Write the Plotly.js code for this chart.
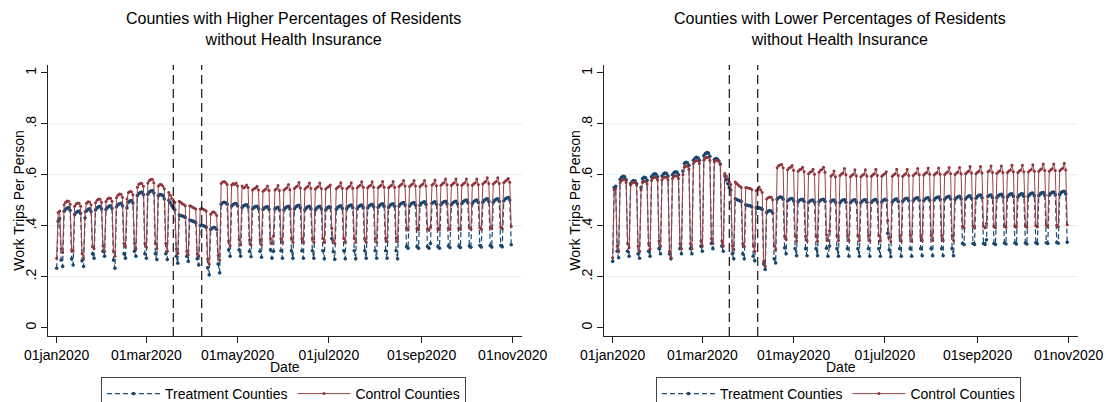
<!DOCTYPE html>
<html>
<head>
<meta charset="utf-8">
<script src="https://cdn.plot.ly/plotly-3.0.1.min.js"></script>
<style>
html,body{margin:0;padding:0;background:#ffffff;}
#chart{width:1106px;height:402px;}
</style>
</head>
<body>
<div id="chart"></div>
<script>
// ---------------- DATA ----------------
const startDate = [2020, 0, 1]; // 01jan2020, daily series through 31oct2020
const seriesNames = ['Treatment Counties', 'Control Counties'];
const panelTitles = [
  'Counties with Higher Percentages of Residents<br>without Health Insurance',
  'Counties with Lower Percentages of Residents<br>without Health Insurance'
];
const xTitle = 'Date';
const yTitle = 'Work Trips Per Person';
const xTickDates = ['2020-01-01', '2020-03-01', '2020-05-01', '2020-07-01', '2020-09-01', '2020-11-01'];
const xTickLabels = ['01jan2020', '01mar2020', '01may2020', '01jul2020', '01sep2020', '01nov2020'];
const yTickValues = [0, 0.2, 0.4, 0.6, 0.8, 1];
const yTickLabels = ['0', '.2', '.4', '.6', '.8', '1'];
const gridValues = [0.2, 0.4, 0.6, 0.8];
const policyDates = ['2020-03-19', '2020-04-07'];

// Higher uninsured panel - Treatment counties (daily)
const higherTreatment = [
  .233,.418,.428,.265,.240,
  .457,.465,.469,.471,.461,.270,.246,
  .444,.452,.456,.458,.448,.262,.240,
  .430,.458,.464,.466,.456,.290,.272,
  .462,.470,.474,.476,.466,.300,.280,
  .464,.472,.476,.478,.468,.265,.233,
  .474,.482,.486,.488,.478,.290,.272,
  .470,.492,.497,.499,.489,.300,.280,
  .518,.526,.530,.532,.522,.290,.272,
  .524,.532,.536,.538,.528,.290,.267,
  .518,.522,.522,.518,.505,.290,.267,
  .500,.490,.478,.470,.462,.280,.253,
  .442,.440,.438,.436,.432,.280,.260,
  .422,.420,.418,.416,.412,.270,.246,
  .402,.402,.400,.398,.394,.235,.207,
  .385,.390,.393,.392,.385,.250,.215,
  .484,.490,.492,.490,.484,.305,.280,
  .477,.483,.486,.487,.478,.305,.280,
  .472,.478,.481,.482,.473,.300,.278,
  .466,.472,.475,.476,.467,.300,.276,
  .464,.470,.473,.474,.465,.305,.272,
  .300,.466,.470,.472,.462,.302,.272,
  .462,.470,.474,.476,.466,.302,.272,
  .466,.474,.478,.480,.470,.302,.272,
  .462,.470,.474,.476,.466,.302,.272,
  .462,.470,.474,.476,.466,.302,.270,
  .462,.470,.474,.472,.350,.298,.268,
  .464,.472,.476,.478,.468,.302,.270,
  .467,.475,.479,.481,.471,.302,.270,
  .467,.475,.479,.481,.471,.302,.272,
  .470,.478,.482,.484,.474,.302,.272,
  .472,.480,.484,.486,.476,.302,.272,
  .472,.480,.484,.486,.476,.302,.270,
  .477,.485,.489,.491,.481,.318,.312,
  .477,.485,.489,.491,.481,.318,.312,
  .480,.488,.492,.494,.484,.318,.312,
  .330,.488,.492,.494,.484,.318,.312,
  .482,.490,.494,.496,.486,.320,.314,
  .482,.490,.494,.496,.486,.320,.314,
  .487,.495,.499,.501,.491,.320,.315,
  .487,.495,.499,.501,.491,.322,.316,
  .492,.500,.504,.506,.496,.322,.316,
  .492,.500,.504,.506,.496,.322,.317,
  .497,.505,.509,.511,.501,.325
];

// Higher uninsured panel - Control counties (daily)
const higherControl = [
  .272,.452,.458,.310,.295,
  .482,.492,.497,.496,.484,.305,.300,
  .476,.485,.489,.488,.476,.290,.270,
  .455,.488,.494,.493,.482,.318,.310,
  .490,.500,.505,.504,.492,.320,.300,
  .495,.505,.509,.508,.496,.300,.280,
  .510,.520,.525,.524,.512,.330,.318,
  .505,.530,.534,.533,.522,.330,.310,
  .551,.563,.567,.566,.555,.330,.315,
  .568,.578,.582,.581,.569,.330,.310,
  .556,.562,.562,.556,.545,.330,.300,
  .530,.520,.508,.500,.492,.310,.290,
  .496,.492,.486,.483,.478,.300,.285,
  .478,.476,.472,.470,.466,.290,.280,
  .466,.468,.465,.462,.458,.270,.250,
  .445,.452,.455,.450,.440,.285,.265,
  .566,.572,.574,.570,.562,.340,.320,
  .560,.566,.562,.568,.556,.345,.325,
  .556,.548,.552,.560,.550,.345,.325,
  .540,.545,.548,.555,.540,.345,.325,
  .535,.540,.544,.556,.538,.350,.330,
  .360,.540,.545,.558,.538,.350,.335,
  .540,.545,.549,.562,.541,.350,.335,
  .546,.552,.556,.570,.548,.350,.335,
  .544,.550,.554,.568,.546,.350,.335,
  .544,.550,.554,.568,.546,.350,.335,
  .544,.550,.554,.560,.390,.340,.330,
  .545,.551,.555,.569,.547,.350,.335,
  .545,.551,.555,.569,.547,.350,.335,
  .549,.555,.559,.573,.551,.350,.335,
  .549,.555,.559,.573,.551,.350,.335,
  .549,.555,.559,.574,.551,.352,.338,
  .549,.555,.559,.574,.551,.352,.338,
  .554,.560,.564,.578,.556,.390,.383,
  .554,.560,.564,.578,.556,.390,.383,
  .554,.560,.564,.578,.556,.388,.382,
  .395,.560,.565,.579,.557,.390,.383,
  .559,.565,.569,.583,.561,.390,.385,
  .559,.565,.569,.583,.561,.390,.385,
  .559,.565,.569,.583,.561,.392,.386,
  .559,.565,.569,.583,.561,.392,.386,
  .564,.570,.574,.588,.566,.393,.388,
  .564,.570,.574,.588,.566,.393,.388,
  .569,.575,.579,.585,.571,.397
];

// Lower uninsured panel - Treatment counties (daily)
const lowerTreatment = [
  .260,.550,.555,.300,.274,
  .582,.590,.594,.592,.580,.300,.280,
  .565,.573,.577,.575,.565,.290,.272,
  .550,.585,.590,.588,.578,.300,.280,
  .592,.600,.604,.602,.592,.310,.290,
  .595,.603,.607,.605,.595,.290,.270,
  .600,.608,.612,.610,.600,.310,.290,
  .615,.645,.649,.647,.637,.310,.290,
  .657,.665,.669,.667,.657,.320,.300,
  .675,.683,.687,.685,.673,.330,.310,
  .660,.664,.662,.655,.642,.320,.300,
  .595,.580,.565,.550,.540,.290,.270,
  .506,.503,.500,.498,.495,.290,.270,
  .482,.480,.479,.478,.474,.280,.262,
  .470,.471,.470,.468,.464,.250,.228,
  .452,.457,.460,.458,.450,.270,.254,
  .504,.510,.513,.512,.504,.313,.290,
  .497,.503,.506,.507,.498,.310,.282,
  .494,.500,.503,.504,.495,.310,.282,
  .491,.497,.500,.501,.492,.310,.282,
  .494,.500,.503,.504,.495,.312,.280,
  .320,.496,.500,.501,.492,.310,.280,
  .490,.497,.501,.502,.492,.310,.280,
  .490,.497,.501,.502,.492,.310,.280,
  .490,.497,.501,.502,.492,.310,.280,
  .491,.498,.502,.503,.493,.310,.280,
  .493,.500,.504,.500,.370,.305,.278,
  .493,.500,.504,.505,.495,.310,.280,
  .496,.503,.507,.508,.498,.310,.280,
  .498,.505,.509,.510,.500,.310,.282,
  .498,.505,.509,.510,.500,.310,.282,
  .501,.508,.512,.513,.503,.310,.282,
  .503,.510,.514,.515,.505,.310,.282,
  .503,.510,.514,.515,.505,.330,.326,
  .505,.512,.516,.517,.507,.330,.326,
  .508,.515,.519,.520,.510,.330,.326,
  .345,.515,.519,.520,.510,.330,.326,
  .511,.518,.522,.523,.513,.332,.328,
  .513,.520,.524,.525,.515,.332,.328,
  .513,.520,.524,.525,.515,.332,.328,
  .516,.523,.527,.528,.518,.333,.329,
  .518,.525,.529,.530,.520,.333,.330,
  .520,.527,.531,.532,.522,.334,.331,
  .523,.530,.534,.535,.525,.335
];

// Lower uninsured panel - Control counties (daily)
const lowerControl = [
  .274,.540,.545,.320,.300,
  .570,.578,.581,.580,.570,.330,.313,
  .560,.568,.571,.570,.560,.320,.300,
  .540,.570,.575,.574,.564,.330,.310,
  .578,.587,.590,.589,.579,.340,.320,
  .580,.588,.591,.590,.580,.300,.275,
  .585,.593,.596,.595,.585,.330,.310,
  .600,.630,.634,.633,.622,.330,.310,
  .644,.652,.656,.655,.644,.340,.320,
  .657,.665,.669,.668,.657,.350,.330,
  .650,.657,.658,.652,.640,.340,.320,
  .605,.595,.583,.572,.562,.320,.308,
  .572,.566,.560,.555,.550,.330,.318,
  .550,.549,.547,.546,.542,.320,.300,
  .538,.542,.552,.540,.530,.260,.241,
  .505,.510,.513,.512,.502,.320,.307,
  .628,.635,.638,.640,.628,.360,.346,
  .620,.627,.630,.636,.618,.360,.340,
  .614,.620,.622,.630,.612,.360,.340,
  .604,.610,.613,.622,.602,.360,.340,
  .610,.618,.621,.630,.610,.365,.342,
  .380,.595,.600,.615,.592,.362,.342,
  .597,.603,.607,.625,.600,.362,.342,
  .592,.598,.602,.620,.595,.362,.342,
  .592,.598,.602,.620,.595,.362,.342,
  .594,.600,.604,.622,.597,.362,.340,
  .594,.600,.604,.612,.420,.355,.338,
  .594,.600,.604,.622,.597,.362,.340,
  .594,.600,.604,.622,.597,.362,.340,
  .597,.603,.607,.625,.600,.362,.342,
  .599,.605,.609,.627,.602,.362,.342,
  .599,.605,.609,.627,.602,.362,.342,
  .601,.607,.611,.629,.604,.362,.342,
  .601,.607,.611,.629,.604,.398,.392,
  .604,.610,.614,.632,.607,.398,.392,
  .604,.610,.614,.632,.607,.398,.392,
  .410,.612,.616,.634,.609,.398,.392,
  .606,.612,.616,.634,.609,.400,.394,
  .609,.615,.619,.637,.612,.400,.394,
  .609,.615,.619,.637,.612,.400,.394,
  .611,.617,.621,.639,.614,.400,.395,
  .614,.620,.624,.642,.617,.402,.396,
  .614,.620,.624,.642,.617,.402,.396,
  .616,.622,.626,.645,.619,.404
];

// ---------------- BUILD ----------------
const FONT = 'Liberation Sans, Arial, Helvetica, sans-serif';
const W = 1106, H = 402;
const px = v => v / W;          // paper x from pixel
const py = v => 1 - v / H;      // paper y from pixel

const n = higherTreatment.length;
const dates = [];
for (let i = 0; i < n; i++) {
  const d = new Date(Date.UTC(startDate[0], startDate[1], startDate[2] + i));
  dates.push(d.toISOString().slice(0, 10));
}
const day0 = Date.UTC(startDate[0], startDate[1], startDate[2]);
const DAY = 86400000;
const xRange = [day0 - 5.6 * DAY, day0 + 311 * DAY];
const yRange = [-0.033, 1.031];

const panels = [
  {series: [higherTreatment, higherControl], xa: 'x', ya: 'y', legend: 'legend',
   dom: [48.3, 521.7], center: 285, titleCenter: 293, legendCenter: 283.5},
  {series: [lowerTreatment, lowerControl], xa: 'x2', ya: 'y2', legend: 'legend2',
   dom: [604.3, 1077.7], center: 841, titleCenter: 840, legendCenter: 838.5}
];

const styles = [
  {line: {color: '#1a476f', width: 1.2, dash: '5px,3px'}, marker: {size: 3.6, color: '#1a476f'}},
  {line: {color: '#9a4249', width: 1}, marker: {size: 3, color: '#90353b'}}
];

const traces = [];
const shapes = [];
const annotations = [];
const layout = {
  width: W, height: H,
  paper_bgcolor: '#ffffff', plot_bgcolor: '#ffffff',
  margin: {l: 0, r: 0, t: 0, b: 0, autoexpand: false},
  font: {family: FONT, size: 14, color: '#000'},
  showlegend: true,
  shapes: shapes,
  annotations: annotations
};

const lens = [higherTreatment, higherControl, lowerTreatment, lowerControl].map(a => a.length);

panels.forEach((p, pi) => {
  p.series.forEach((vals, si) => {
    traces.push({
      type: 'scatter', mode: 'lines+markers',
      x: dates, y: vals, name: seriesNames[si],
      xaxis: p.xa, yaxis: p.ya, legend: p.legend,
      line: styles[si].line, marker: styles[si].marker,
      hoverinfo: 'x+y+name'
    });
  });
  const xk = pi === 0 ? 'xaxis' : 'xaxis2';
  const yk = pi === 0 ? 'yaxis' : 'yaxis2';
  layout[xk] = {
    domain: [px(p.dom[0]), px(p.dom[1])], anchor: p.ya, type: 'date',
    range: xRange, tickmode: 'array', tickvals: xTickDates, ticktext: xTickLabels,
    ticks: 'outside', ticklen: 6, tickwidth: 1, tickcolor: '#222',
    showline: true, linecolor: '#222', linewidth: 1, mirror: false,
    showgrid: false, zeroline: false, tickfont: {family: FONT, size: 14, color: '#000'},
    fixedrange: true
  };
  layout[yk] = {
    domain: [py(336), py(65)], anchor: p.xa, range: yRange,
    tickmode: 'array', tickvals: yTickValues, ticktext: yTickLabels, tickangle: -90,
    ticks: 'outside', ticklen: 6, tickwidth: 1, tickcolor: '#222',
    showline: true, linecolor: '#222', linewidth: 1,
    showgrid: false, zeroline: false, tickfont: {family: FONT, size: 14, color: '#000'},
    fixedrange: true
  };
  gridValues.forEach(v => shapes.push({
    type: 'line', layer: 'below', xref: p.xa + ' domain', x0: 0, x1: 1,
    yref: p.ya, y0: v, y1: v, line: {color: '#e4ecee', width: 1}
  }));
  policyDates.forEach(d => shapes.push({
    type: 'line', layer: 'above', xref: p.xa, x0: d, x1: d,
    yref: p.ya + ' domain', y0: 0, y1: 1, line: {color: '#111', width: 1.2, dash: '9px,5px'}
  }));
  annotations.push({
    text: panelTitles[pi], xref: 'paper', yref: 'paper', x: px(p.titleCenter), y: py(29.5),
    xanchor: 'center', yanchor: 'middle', showarrow: false,
    font: {family: FONT, size: 16, color: '#000'}
  });
  annotations.push({
    text: xTitle, xref: 'paper', yref: 'paper', x: px(p.center), y: py(367),
    xanchor: 'center', yanchor: 'middle', showarrow: false,
    font: {family: FONT, size: 14, color: '#000'}
  });
  annotations.push({
    text: yTitle, xref: 'paper', yref: 'paper', x: px(p.dom[0] - 30), y: py(200.5),
    xanchor: 'center', yanchor: 'middle', showarrow: false, textangle: -90,
    font: {family: FONT, size: 14, color: '#000'}
  });
  layout[p.legend] = {
    orientation: 'h', x: px(p.legendCenter), xanchor: 'center', y: py(377), yanchor: 'top',
    bordercolor: '#444', borderwidth: 1, bgcolor: '#ffffff',
    font: {family: FONT, size: 14, color: '#000'},
    itemwidth: 53,
    traceorder: 'normal', itemclick: false, itemdoubleclick: false
  };
});

if (lens.some(l => l !== n)) {
  document.body.insertAdjacentHTML('beforeend', '<pre>Length mismatch: ' + lens.join(',') + '</pre>');
}

Plotly.newPlot('chart', traces, layout, {displayModeBar: false, staticPlot: true});
</script>
</body>
</html>
